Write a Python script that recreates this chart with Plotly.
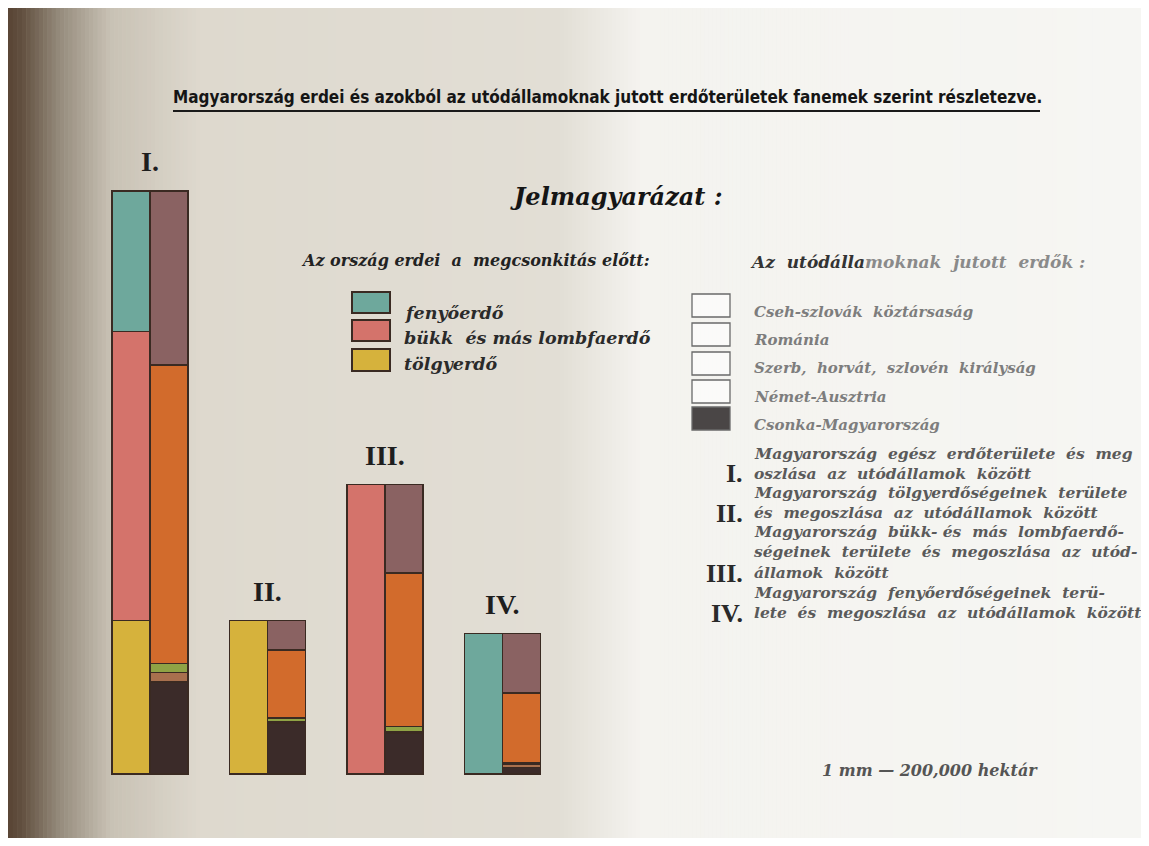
import plotly.graph_objects as go

W, H = 1149, 846
OX, OY = 8, 8                  # a böngésző alapmargója
FW, FH = W - 2 * OX, H - 2 * OY

# adatok (ezer hektár, a rajzról leolvasva; 1 mm = 200 000 ha)
groups = ["I.", "II.", "III.", "IV."]
species = ["tölgyerdő", "bükk és más lombfaerdő", "fenyőerdő"]
tolgy = [1945, 1945, None, None]
bukk = [3670, None, 3670, None]
fenyo = [1780, None, None, 1780]

states = ["Csonka-Magyarország", "Német-Ausztria", "Szerb, horvát, szlovén királyság",
          "Románia", "Cseh-szlovák köztársaság"]
csonka = [1170, 645, 520, 80]
ausztria = [115, 15, 20, 45]
shs = [115, 50, 65, 15]
romania = [3785, 865, 1945, 890]
cseh = [2210, 370, 1120, 750]

col_species = ["#d6b23c", "#d4736b", "#6ea89c"]
col_states = ["#3b2b29", "#a8704e", "#8fa345", "#d26b2c", "#8a6262"]
edge = "#3a2a22"

# geometria (a referencia képpontjaiban)
step = 117.5          # px a csoportok között
x0_px = 150           # az I. csoport közepe
bw = 38 / step
off = bw / 2
px_per_unit = 583 / 7395
base_px = 774

def fx(px):
    return (px - OX) / FW

def fy(py):
    return 1 - (py - OY) / FH

fig = go.Figure()

xs = list(range(len(groups)))
for name, vals, c in zip(species, [tolgy, bukk, fenyo], col_species):
    fig.add_trace(go.Bar(x=[i - off for i in xs], y=vals, width=bw, name=name,
                         marker=dict(color=c, line=dict(color=edge, width=1.6))))
for name, vals, c in zip(states, [csonka, ausztria, shs, romania, cseh], col_states):
    fig.add_trace(go.Bar(x=[i + off for i in xs], y=vals, width=bw, name=name,
                         marker=dict(color=c, line=dict(color=edge, width=1.6))))

totals = [a + b + c + d + e for a, b, c, d, e in zip(csonka, ausztria, shs, romania, cseh)]

shapes = []
# papír háttér: bal oldali árnyék és a világosabb jobb oldal
def mix(c1, c2, t):
    return "rgb(%d,%d,%d)" % tuple(round(a + (b - a) * t) for a, b in zip(c1, c2))

stops = [(8, (88, 68, 52)), (22, (98, 80, 64)),
         (60, (150, 140, 125)), (110, (200, 193, 180)), (200, (222, 217, 206)),
         (560, (226, 222, 213)), (640, (244, 243, 239)), (1141, (246, 246, 243))]
for k in range(len(stops) - 1):
    (a, ca), (b, cb) = stops[k], stops[k + 1]
    n = max(1, int((b - a) / 4))
    for j in range(n):
        xa = a + (b - a) * j / n
        xb = a + (b - a) * (j + 1) / n
        shapes.append(dict(type="rect", xref="paper", yref="paper", x0=fx(xa), x1=fx(xb) + 0.0005,
                           y0=0, y1=1, fillcolor=mix(ca, cb, (j + 0.5) / n), line=dict(width=0),
                           layer="below"))

# cím aláhúzása
shapes.append(dict(type="line", xref="paper", yref="paper", x0=fx(173), x1=fx(1040),
                   y0=fy(111), y1=fy(111), line=dict(color="#1a1a1a", width=2)))

# bal jelmagyarázat dobozai
for (t, b), c in zip([(292, 313), (320, 341), (349, 371)], ["#6ea89c", "#d4736b", "#d6b23c"]):
    shapes.append(dict(type="rect", xref="paper", yref="paper", x0=fx(352), x1=fx(390),
                       y0=fy(b), y1=fy(t), fillcolor=c, line=dict(color=edge, width=2)))

# jobb jelmagyarázat dobozai
for k, (t, b) in enumerate([(294, 317), (323, 346), (352, 375), (380, 403), (407, 430)]):
    shapes.append(dict(type="rect", xref="paper", yref="paper", x0=fx(692), x1=fx(730),
                       y0=fy(b), y1=fy(t),
                       fillcolor="#4a4646" if k == 4 else "rgba(255,255,255,0.6)",
                       line=dict(color="#6a6a6a", width=1.3)))

serif = "DejaVu Serif, Liberation Serif, serif"
ann = []

def txt(px, py, s, size=15, color="#333", xanchor="left", family=serif, bold=True, italic=True):
    ann.append(dict(xref="paper", yref="paper", x=fx(px), y=fy(py), text=s, showarrow=False,
                    xanchor=xanchor, yanchor="middle",
                    font=dict(family=family, size=size, color=color,
                              weight="bold" if bold else "normal",
                              style="italic" if italic else "normal")))

txt(607, 97, "Magyarország erdei és azokból az utódállamoknak jutott erdőterületek fanemek szerint részletezve.",
    size=17, color="#151515", xanchor="center",
    family="Liberation Sans Narrow, DejaVu Sans Condensed, Arial Narrow, sans-serif", italic=False)

txt(616, 196, "Jelmagyarázat :", size=24, color="#151515", xanchor="center")
txt(475, 261, "Az ország erdei  a  megcsonkitás előtt:", size=16, color="#222", xanchor="center")
txt(402, 313, "fenyőerdő", size=17.5, color="#2a2a2a")
txt(402, 338, "bükk  és más lombfaerdő", size=17.5, color="#2a2a2a")
txt(402, 364, "tölgyerdő", size=17.5, color="#2a2a2a")

txt(748, 262, "Az  utódálla<span style='color:#8a8a8a'>moknak  jutott  erdők :</span>", size=17, color="#333")
legend_right = ["Cseh-szlovák  köztársaság", "Románia", "Szerb,  horvát,  szlovén  királyság",
                "Német-Ausztria", "Csonka-Magyarország"]
for s, py in zip(legend_right, [312, 340, 368, 397, 425]):
    txt(752, py, s, size=15, color="#7d7d7d")

desc = [
    (453, "Magyarország  egész  erdőterülete  és  meg"),
    (473, "oszlása  az  utódállamok  között"),
    (492, "Magyarország  tölgyerdőségeinek  területe"),
    (512, "és  megoszlása  az  utódállamok  között"),
    (531, "Magyarország  bükk- és  más  lombfaerdő-"),
    (551, "ségeinek  területe  és  megoszlása  az  utód-"),
    (572, "államok  között"),
    (592, "Magyarország  fenyőerdőségeinek  terü-"),
    (612, "lete  és  megoszlása  az  utódállamok  között"),
]
for py, s in desc:
    txt(752, py, s, size=15.5, color="#5a5a5a")
for py, s in [(473, "I."), (513, "II."), (573, "III."), (613, "IV.")]:
    txt(745, py, s, size=26, color="#2a2a2a", xanchor="right",
        family="Liberation Serif, serif", italic=False)

txt(930, 770, "1 mm — 200,000 hektár", size=16, color="#555", xanchor="center")

# római számok az oszlopok fölött
for i, (g, t) in enumerate(zip(groups, totals)):
    ann.append(dict(x=i, y=t, xref="x", yref="y", text=g, showarrow=False,
                    yanchor="bottom", yshift=12,
                    font=dict(family="Liberation Serif, serif", size=28, color="#1e1e1e",
                              weight="bold")))

fig.update_layout(
    width=FW, height=FH, barmode="stack", showlegend=False,
    margin=dict(l=0, r=0, t=0, b=0),
    paper_bgcolor="#e2ded5", plot_bgcolor="rgba(0,0,0,0)",
    xaxis=dict(range=[(OX - x0_px) / step, (W - OX - x0_px) / step], visible=False,
               fixedrange=True),
    yaxis=dict(range=[(base_px - (H - OY)) / px_per_unit, (base_px - OY) / px_per_unit],
               visible=False, fixedrange=True),
    shapes=shapes, annotations=ann,
)

fig.write_html("out.html")
